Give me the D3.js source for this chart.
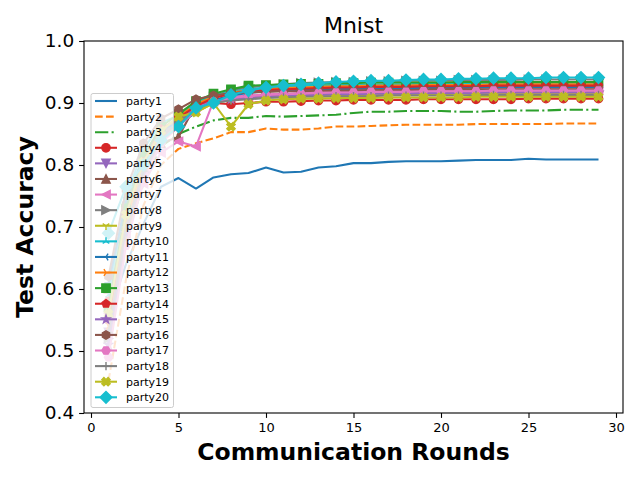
<!DOCTYPE html>
<html>
<head>
<meta charset="utf-8">
<script src="https://cdn.jsdelivr.net/npm/d3@7"></script>
<style>
    body { margin: 0; background: #fff; }
    svg { display: block; font-family: "DejaVu Sans", sans-serif; }
</style>
</head>
<body>
<div id="chart"></div>
<script>
"use strict";

// communication rounds on the x axis
const rounds = [1, 2, 3, 4, 5, 6, 7, 8, 9, 10, 11, 12, 13, 14, 15, 16, 17, 18, 19, 20, 21, 22, 23, 24, 25, 26, 27, 28, 29];

// test accuracy per party
const party1 = [0.555, 0.640, 0.705, 0.765, 0.779, 0.762, 0.780, 0.785, 0.787, 0.796, 0.788, 0.789, 0.796, 0.798, 0.803, 0.803, 0.805, 0.806, 0.806, 0.806, 0.807, 0.808, 0.808, 0.808, 0.810, 0.809, 0.809, 0.809, 0.809];
const party2 = [0.452, 0.615, 0.735, 0.800, 0.826, 0.835, 0.843, 0.853, 0.853, 0.859, 0.857, 0.857, 0.859, 0.862, 0.862, 0.863, 0.864, 0.865, 0.865, 0.865, 0.865, 0.866, 0.866, 0.866, 0.866, 0.866, 0.867, 0.867, 0.867];
const party3 = [0.520, 0.680, 0.770, 0.830, 0.850, 0.862, 0.872, 0.876, 0.876, 0.879, 0.878, 0.879, 0.880, 0.881, 0.884, 0.886, 0.886, 0.887, 0.887, 0.887, 0.886, 0.886, 0.887, 0.888, 0.888, 0.888, 0.889, 0.889, 0.889];
const party4 = [0.580, 0.720, 0.800, 0.850, 0.875, 0.890, 0.900, 0.898, 0.900, 0.902, 0.902, 0.903, 0.904, 0.904, 0.905, 0.905, 0.905, 0.905, 0.906, 0.906, 0.906, 0.906, 0.906, 0.906, 0.907, 0.907, 0.907, 0.907, 0.907];
const party5 = [0.530, 0.700, 0.790, 0.845, 0.872, 0.895, 0.905, 0.908, 0.910, 0.912, 0.913, 0.914, 0.914, 0.915, 0.915, 0.916, 0.916, 0.916, 0.917, 0.917, 0.917, 0.917, 0.918, 0.918, 0.918, 0.918, 0.918, 0.918, 0.918];
const party6 = [0.600, 0.740, 0.800, 0.835, 0.845, 0.898, 0.912, 0.918, 0.918, 0.920, 0.921, 0.921, 0.922, 0.922, 0.923, 0.923, 0.923, 0.924, 0.924, 0.924, 0.924, 0.925, 0.925, 0.925, 0.925, 0.925, 0.925, 0.925, 0.925];
const party7 = [0.560, 0.690, 0.770, 0.820, 0.838, 0.830, 0.903, 0.910, 0.912, 0.914, 0.915, 0.916, 0.917, 0.918, 0.918, 0.919, 0.919, 0.920, 0.920, 0.920, 0.920, 0.921, 0.921, 0.921, 0.921, 0.921, 0.921, 0.921, 0.921];
const party8 = [0.520, 0.700, 0.795, 0.850, 0.875, 0.898, 0.910, 0.920, 0.925, 0.928, 0.930, 0.932, 0.933, 0.934, 0.934, 0.935, 0.935, 0.936, 0.936, 0.936, 0.937, 0.937, 0.937, 0.937, 0.938, 0.938, 0.938, 0.938, 0.938];
const party9 = [0.500, 0.680, 0.780, 0.840, 0.868, 0.885, 0.900, 0.905, 0.908, 0.910, 0.911, 0.912, 0.912, 0.913, 0.913, 0.913, 0.914, 0.914, 0.914, 0.914, 0.915, 0.915, 0.915, 0.915, 0.915, 0.915, 0.915, 0.915, 0.915];
const party10 = [0.590, 0.750, 0.825, 0.868, 0.880, 0.900, 0.912, 0.918, 0.922, 0.925, 0.926, 0.927, 0.928, 0.929, 0.929, 0.930, 0.930, 0.930, 0.931, 0.931, 0.931, 0.931, 0.932, 0.932, 0.932, 0.932, 0.932, 0.932, 0.932];
const party11 = [0.610, 0.740, 0.815, 0.860, 0.865, 0.885, 0.905, 0.912, 0.916, 0.919, 0.920, 0.921, 0.922, 0.923, 0.923, 0.924, 0.924, 0.924, 0.925, 0.925, 0.925, 0.925, 0.926, 0.926, 0.926, 0.926, 0.926, 0.926, 0.926];
const party12 = [0.540, 0.710, 0.800, 0.855, 0.878, 0.898, 0.910, 0.917, 0.920, 0.923, 0.924, 0.925, 0.926, 0.927, 0.927, 0.928, 0.928, 0.928, 0.929, 0.929, 0.929, 0.929, 0.930, 0.930, 0.930, 0.930, 0.930, 0.930, 0.930];
const party13 = [0.570, 0.730, 0.815, 0.862, 0.882, 0.903, 0.915, 0.922, 0.928, 0.929, 0.930, 0.931, 0.931, 0.932, 0.932, 0.933, 0.933, 0.933, 0.933, 0.933, 0.934, 0.934, 0.934, 0.934, 0.934, 0.934, 0.934, 0.934, 0.934];
const party14 = [0.550, 0.720, 0.805, 0.858, 0.876, 0.895, 0.908, 0.915, 0.919, 0.921, 0.922, 0.923, 0.924, 0.925, 0.925, 0.926, 0.926, 0.926, 0.927, 0.927, 0.927, 0.927, 0.928, 0.928, 0.928, 0.928, 0.928, 0.928, 0.928];
const party15 = [0.510, 0.690, 0.785, 0.842, 0.870, 0.892, 0.902, 0.906, 0.909, 0.911, 0.912, 0.913, 0.913, 0.914, 0.914, 0.915, 0.915, 0.915, 0.916, 0.916, 0.916, 0.916, 0.917, 0.917, 0.917, 0.917, 0.917, 0.917, 0.917];
const party16 = [0.620, 0.760, 0.835, 0.875, 0.890, 0.906, 0.912, 0.916, 0.917, 0.918, 0.919, 0.919, 0.920, 0.920, 0.920, 0.921, 0.921, 0.921, 0.921, 0.922, 0.922, 0.922, 0.922, 0.922, 0.922, 0.922, 0.922, 0.922, 0.922];
const party17 = [0.490, 0.670, 0.775, 0.835, 0.862, 0.888, 0.902, 0.908, 0.911, 0.913, 0.914, 0.915, 0.916, 0.917, 0.917, 0.918, 0.918, 0.918, 0.919, 0.919, 0.919, 0.919, 0.920, 0.920, 0.920, 0.920, 0.920, 0.920, 0.920];
const party18 = [0.530, 0.700, 0.790, 0.845, 0.870, 0.888, 0.900, 0.904, 0.906, 0.908, 0.909, 0.910, 0.910, 0.911, 0.911, 0.911, 0.912, 0.912, 0.912, 0.912, 0.912, 0.913, 0.913, 0.913, 0.913, 0.913, 0.913, 0.913, 0.913];
const party19 = [0.560, 0.720, 0.805, 0.855, 0.878, 0.885, 0.900, 0.862, 0.898, 0.904, 0.906, 0.907, 0.907, 0.908, 0.908, 0.908, 0.909, 0.909, 0.909, 0.909, 0.909, 0.910, 0.910, 0.910, 0.910, 0.910, 0.910, 0.910, 0.910];
const party20 = [0.690, 0.765, 0.800, 0.840, 0.862, 0.892, 0.900, 0.913, 0.920, 0.925, 0.928, 0.930, 0.932, 0.934, 0.935, 0.936, 0.936, 0.937, 0.938, 0.938, 0.939, 0.939, 0.940, 0.940, 0.940, 0.941, 0.941, 0.941, 0.941];

const partyNames = ["party1", "party2", "party3", "party4", "party5", "party6", "party7", "party8", "party9", "party10",
    "party11", "party12", "party13", "party14", "party15", "party16", "party17", "party18", "party19", "party20"];
const partyValues = [party1, party2, party3, party4, party5, party6, party7, party8, party9, party10,
    party11, party12, party13, party14, party15, party16, party17, party18, party19, party20];

const xTicks = [0, 5, 10, 15, 20, 25, 30];
const yTicks = [0.4, 0.5, 0.6, 0.7, 0.8, 0.9, 1.0];

// styles (matplotlib default cycle)
const tab10 = ["#1f77b4", "#ff7f0e", "#2ca02c", "#d62728", "#9467bd", "#8c564b", "#e377c2", "#7f7f7f", "#bcbd22", "#17becf"];
const partyMarkers = [null, null, null, "o", "v", "^", "<", ">", "1", "2", "3", "4", "s", "p", "*", "h", "H", "+", "X", "D"];
const partyDashes = [null, "7.7,3.3", "13.3,3.3,2.1,3.3"];

(function () {
    const width = 640;
    const height = 480;
    const plot = { left: 84, right: 623, top: 41, bottom: 413 };
    const markerSize = 8.33;
    const lineMarkers = ["1", "2", "3", "4", "+"];

    const xScale = d3.scaleLinear().domain([-0.4, 30.4]).range([plot.left, plot.right]);
    const yScale = d3.scaleLinear().domain([0.4, 1.0]).range([plot.bottom, plot.top]);

    function polygon(points) {
        return "M" + points.map(p => p[0].toFixed(2) + "," + p[1].toFixed(2)).join("L") + "Z";
    }

    function regular(n, rad, rot) {
        return d3.range(n).map(i => {
            const a = rot + i * 2 * Math.PI / n;
            return [rad * Math.sin(a), -rad * Math.cos(a)];
        });
    }

    function spokes(points) {
        return points.map(p => "M0,0L" + p[0].toFixed(2) + "," + p[1].toFixed(2)).join("");
    }

    function markerPath(type, size) {
        const r = size / 2;
        switch (type) {
            case "o": return d3.symbol(d3.symbolCircle, Math.PI * r * r)();
            case "v": return polygon([[0, r], [-r, -r], [r, -r]]);
            case "^": return polygon([[0, -r], [-r, r], [r, r]]);
            case "<": return polygon([[-r, 0], [r, -r], [r, r]]);
            case ">": return polygon([[r, 0], [-r, -r], [-r, r]]);
            case "s": return polygon([[-r, -r], [r, -r], [r, r], [-r, r]]);
            case "D": {
                const d = r * Math.SQRT2;
                return polygon([[0, -d], [d, 0], [0, d], [-d, 0]]);
            }
            case "p": return polygon(regular(5, r, 0));
            case "h": return polygon(regular(6, r, 0));
            case "H": return polygon(regular(6, r, Math.PI / 6));
            case "*": {
                const pts = d3.range(10).map(i => {
                    const a = i * Math.PI / 5;
                    const rad = i % 2 ? r * 0.381966 : r;
                    return [rad * Math.sin(a), -rad * Math.cos(a)];
                });
                return polygon(pts);
            }
            case "X": {
                const pts = [[-1, -2], [0, -1], [1, -2], [2, -1], [1, 0], [2, 1],
                    [1, 2], [0, 1], [-1, 2], [-2, 1], [-1, 0], [-2, -1]];
                return polygon(pts.map(p => [p[0] * size / 4, p[1] * size / 4]));
            }
            case "1": return spokes([[0, r], [0.8 * r, -0.5 * r], [-0.8 * r, -0.5 * r]]);
            case "2": return spokes([[0, -r], [0.8 * r, 0.5 * r], [-0.8 * r, 0.5 * r]]);
            case "3": return spokes([[-r, 0], [0.5 * r, 0.8 * r], [0.5 * r, -0.8 * r]]);
            case "4": return spokes([[r, 0], [-0.5 * r, 0.8 * r], [-0.5 * r, -0.8 * r]]);
            case "+": return "M" + (-r) + ",0L" + r + ",0M0," + (-r) + "L0," + r;
            default: return "";
        }
    }

    function styleMarker(selection, type, color) {
        if (lineMarkers.includes(type)) {
            selection.attr("fill", "none").attr("stroke", color).attr("stroke-width", 1.39);
        } else {
            selection.attr("fill", color).attr("stroke", color).attr("stroke-width", 1.39)
                .attr("stroke-linejoin", "miter");
        }
    }

    const svg = d3.select("#chart").append("svg")
        .attr("width", width)
        .attr("height", height);

    svg.append("defs").append("clipPath")
        .attr("id", "plot-clip")
        .append("rect")
        .attr("x", plot.left)
        .attr("y", plot.top)
        .attr("width", plot.right - plot.left)
        .attr("height", plot.bottom - plot.top);

    // series
    const line = d3.line()
        .x((d, i) => xScale(rounds[i]))
        .y(d => yScale(d));

    const seriesLayer = svg.append("g").attr("clip-path", "url(#plot-clip)");

    partyValues.forEach((values, k) => {
        const color = tab10[k % 10];
        const g = seriesLayer.append("g");

        g.append("path")
            .datum(values)
            .attr("d", line)
            .attr("fill", "none")
            .attr("stroke", color)
            .attr("stroke-width", 2.08)
            .attr("stroke-linejoin", "round")
            .attr("stroke-dasharray", partyDashes[k] || null);

        const marker = partyMarkers[k];
        if (marker) {
            g.selectAll("path.marker")
                .data(values)
                .join("path")
                .attr("class", "marker")
                .attr("d", markerPath(marker, markerSize))
                .attr("transform", (d, i) => `translate(${xScale(rounds[i])},${yScale(d)})`)
                .call(styleMarker, marker, color);
        }
    });

    // axes
    const xAxis = svg.append("g")
        .attr("transform", `translate(0,${plot.bottom})`)
        .call(d3.axisBottom(xScale).tickValues(xTicks).tickSize(4.9).tickPadding(4.9));
    xAxis.select(".domain").remove();
    xAxis.selectAll("line").attr("stroke", "#000").attr("stroke-width", 1.1);
    xAxis.selectAll("text")
        .attr("fill", "#000")
        .style("font-size", "13px")
        .style("font-family", "DejaVu Sans");

    const yAxis = svg.append("g")
        .attr("transform", `translate(${plot.left},0)`)
        .call(d3.axisLeft(yScale).tickValues(yTicks).tickFormat(d3.format(".1f")).tickSize(4.9).tickPadding(4.9));
    yAxis.select(".domain").remove();
    yAxis.selectAll("line").attr("stroke", "#000").attr("stroke-width", 1.1);
    yAxis.selectAll("text")
        .attr("fill", "#000")
        .style("font-size", "18.5px")
        .style("font-family", "DejaVu Sans");

    svg.append("rect")
        .attr("x", plot.left)
        .attr("y", plot.top)
        .attr("width", plot.right - plot.left)
        .attr("height", plot.bottom - plot.top)
        .attr("fill", "none")
        .attr("stroke", "#000")
        .attr("stroke-width", 1.1);

    // labels
    svg.append("text")
        .attr("x", (plot.left + plot.right) / 2)
        .attr("y", 33)
        .attr("text-anchor", "middle")
        .style("font-size", "22px")
        .text("Mnist");

    svg.append("text")
        .attr("x", (plot.left + plot.right) / 2)
        .attr("y", 460)
        .attr("text-anchor", "middle")
        .style("font-size", "23.5px")
        .style("font-weight", "bold")
        .text("Communication Rounds");

    svg.append("text")
        .attr("transform", `translate(33,${(plot.top + plot.bottom) / 2}) rotate(-90)`)
        .attr("text-anchor", "middle")
        .style("font-size", "23.5px")
        .style("font-weight", "bold")
        .text("Test Accuracy");

    // legend
    const legend = svg.append("g");
    legend.append("rect")
        .attr("x", 91)
        .attr("y", 93.5)
        .attr("width", 82.5)
        .attr("height", 314)
        .attr("rx", 2)
        .attr("fill", "#fff")
        .attr("fill-opacity", 0.8)
        .attr("stroke", "#cccccc")
        .attr("stroke-width", 1);

    const rowY = d3.scaleLinear().domain([0, partyNames.length - 1]).range([101, 397.3]);

    const rows = legend.selectAll("g.row")
        .data(partyNames)
        .join("g")
        .attr("class", "row")
        .attr("transform", (d, i) => `translate(0,${rowY(i)})`);

    rows.append("line")
        .attr("x1", 95)
        .attr("x2", 117)
        .attr("stroke", (d, i) => tab10[i % 10])
        .attr("stroke-width", 2.08)
        .attr("stroke-dasharray", (d, i) => partyDashes[i] || null);

    rows.each(function (d, i) {
        const marker = partyMarkers[i];
        if (!marker) return;
        d3.select(this).append("path")
            .attr("d", markerPath(marker, markerSize))
            .attr("transform", "translate(106,0)")
            .call(styleMarker, marker, tab10[i % 10]);
    });

    rows.append("text")
        .attr("x", 126)
        .attr("y", 3.9)
        .style("font-size", "11px")
        .text(d => d);
}());
</script>
</body>
</html>
